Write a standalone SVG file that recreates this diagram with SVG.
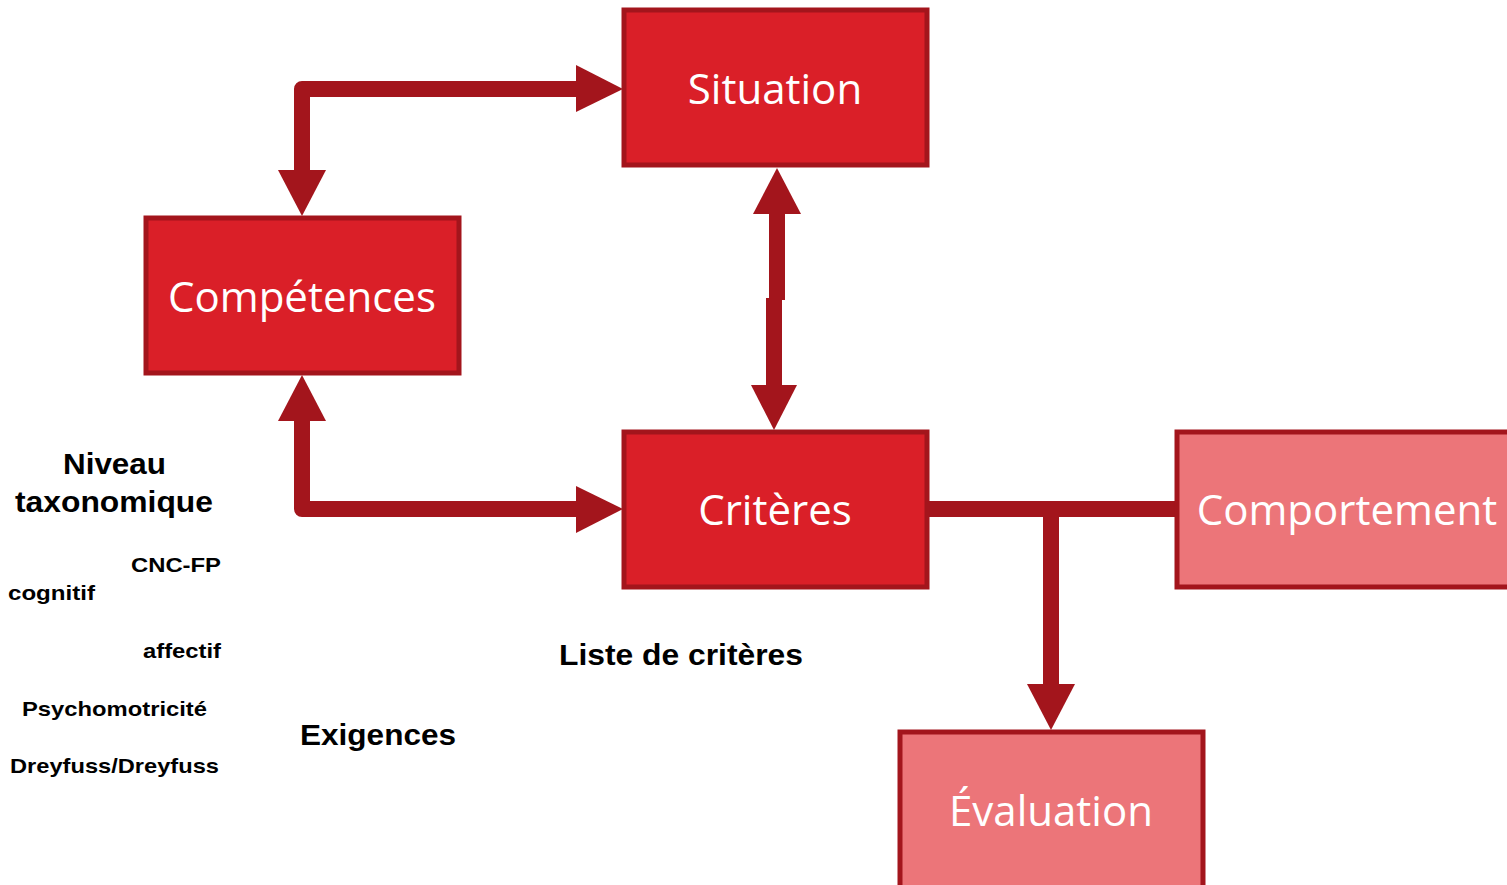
<svg xmlns="http://www.w3.org/2000/svg" width="1507" height="885" viewBox="0 0 1507 885">
<style>
.box{fill:#DA1F28;stroke:#A3151C;stroke-width:5}
.light{fill:#EC7579;stroke:#A3151C;stroke-width:5}
.bt{font-family:"Open Sans","Liberation Sans",sans-serif;font-size:42px;fill:#fff;text-anchor:middle}
.ln{fill:none;stroke:#A3151C;stroke-width:16;stroke-linejoin:round}
.ah{fill:#A3151C}
.lb{font-family:"Liberation Sans",Arial,sans-serif;font-weight:bold;fill:#000}
</style>
<rect width="1507" height="885" fill="#fff"/>
<g id="connectors">
<path class="ln" d="M302,172 V89 H578"/>
<polygon class="ah" points="576,65 623,89 576,112"/>
<polygon class="ah" points="278,170 326,170 302,216"/>
<path class="ln" d="M302,420 V509 H578"/>
<polygon class="ah" points="278,421 326,421 302,375"/>
<polygon class="ah" points="576,486 623,509 576,533"/>
<path class="ln" d="M777,212 V300" style="stroke-linejoin:miter"/>
<path class="ln" d="M774,298 V387" style="stroke-linejoin:miter"/>
<polygon class="ah" points="753,214 801,214 777,168"/>
<polygon class="ah" points="751,385 797,385 774,430"/>
<path class="ln" d="M928,509 H1178" style="stroke-linejoin:miter"/>
<path class="ln" d="M1051,509 V686" style="stroke-linejoin:miter"/>
<polygon class="ah" points="1027,684 1075,684 1051,730"/>
</g>
<g id="situation"><rect class="box" x="624" y="10" width="303" height="155"/><text class="bt" x="775" y="104">Situation</text></g>
<g id="competences"><rect class="box" x="146" y="218" width="313" height="155"/><text class="bt" x="302" y="312">Compétences</text></g>
<g id="criteres"><rect class="box" x="624" y="432" width="303" height="155"/><text class="bt" x="775" y="525">Critères</text></g>
<g id="comportement"><rect class="light" x="1177" y="432" width="340" height="155"/><text class="bt" x="1347" y="525">Comportement</text></g>
<g id="evaluation"><rect class="light" x="900" y="732" width="303" height="165"/><text class="bt" x="1051" y="826">Évaluation</text></g>
<g id="labels">
<text class="lb" x="63" y="474" font-size="30" textLength="103" lengthAdjust="spacingAndGlyphs">Niveau</text>
<text class="lb" x="15" y="512" font-size="30" textLength="198" lengthAdjust="spacingAndGlyphs">taxonomique</text>
<text class="lb" x="131" y="572" font-size="21" textLength="90" lengthAdjust="spacingAndGlyphs">CNC-FP</text>
<text class="lb" x="8" y="600" font-size="21" textLength="87" lengthAdjust="spacingAndGlyphs">cognitif</text>
<text class="lb" x="143" y="658" font-size="21" textLength="78" lengthAdjust="spacingAndGlyphs">affectif</text>
<text class="lb" x="22" y="716" font-size="21" textLength="185" lengthAdjust="spacingAndGlyphs">Psychomotricité</text>
<text class="lb" x="10" y="773" font-size="21" textLength="209" lengthAdjust="spacingAndGlyphs">Dreyfuss/Dreyfuss</text>
<text class="lb" x="300" y="745" font-size="30" textLength="156" lengthAdjust="spacingAndGlyphs">Exigences</text>
<text class="lb" x="559" y="665" font-size="30" textLength="244" lengthAdjust="spacingAndGlyphs">Liste de critères</text>
</g>
</svg>
